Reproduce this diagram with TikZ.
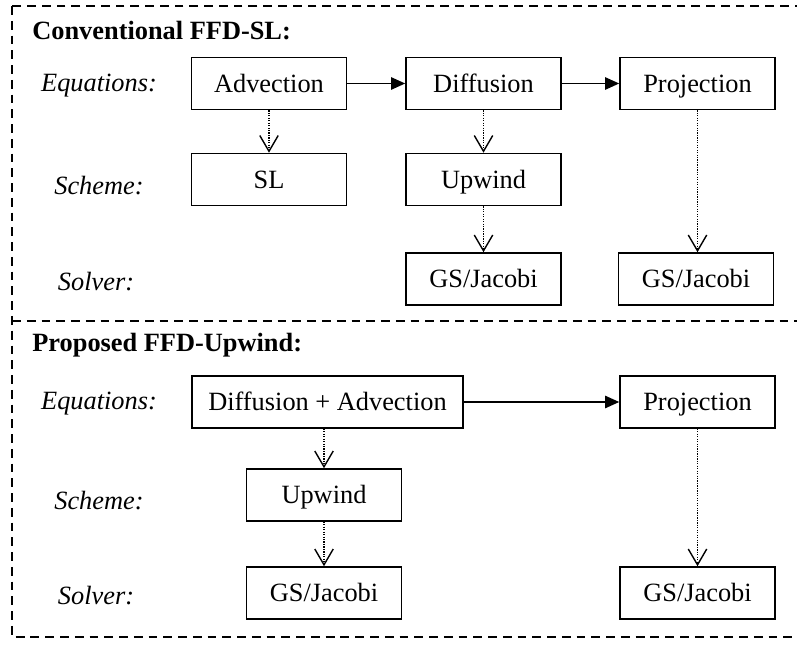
\documentclass[tikz,border=0pt]{standalone}
\usepackage{fontspec}
\setmainfont{Liberation Serif}
\usetikzlibrary{arrows.meta, positioning}

\begin{document}
\begin{tikzpicture}[
    every node/.style={font=\fontsize{15}{18}\selectfont},
    box/.style={rectangle, draw, line width=0.9pt, minimum width=3.1cm, minimum height=1.04cm, inner sep=2pt, text height=10.5pt, text depth=0.5pt},
    rowlbl/.style={font=\fontsize{15}{18}\selectfont\itshape},
    title/.style={font=\fontsize{15}{18}\selectfont\bfseries, anchor=west, inner sep=0pt},
    frame/.style={line width=0.6pt, dash pattern=on 5pt off 3.4pt},
    arr/.style={-{Triangle[length=8pt, width=7pt]}, line width=0.9pt},
    darr/.style={-{Straight Barb[length=9pt, width=10.5pt, line width=0.8pt]}, line width=0.9pt, dash pattern=on 0.7pt off 0.7pt}
]
\useasboundingbox (0, 0) rectangle (15.94, -13.0);

% frames
\draw[frame] (0.24, -0.12) rectangle (16.2, -12.74);
\draw[frame] (0.24, -6.42) -- (16.2, -6.42);

% Conventional FFD-SL
\node[title] (ttop) at (0.64, -0.61) {Conventional FFD-SL:};
\node[rowlbl] (eq1) at (1.98, -1.71) {Equations:};
\node[rowlbl] (sc1) at (1.98, -3.72) {Scheme:};
\node[rowlbl] (so1) at (1.92, -5.63) {Solver:};

\node[box] (adv)  at (5.38, -1.67) {Advection};
\node[box] (diff) at (9.67, -1.67) {Diffusion};
\node[box] (proj) at (13.95, -1.67) {Projection};
\node[box] (sl)   at (5.38, -3.59) {SL};
\node[box] (upw)  at (9.67, -3.59) {Upwind};
\node[box] (gsd)  at (9.67, -5.58) {GS/Jacobi};
\node[box] (gsp)  at (13.92, -5.58) {GS/Jacobi};

\draw[arr] (adv) -- (diff);
\draw[arr] (diff) -- (proj);
\draw[darr] (adv) -- (sl);
\draw[darr] (diff) -- (upw);
\draw[darr] (upw) -- (gsd);
\draw[darr] (proj) -- (proj |- gsp.north);

% Proposed FFD-Upwind
\node[title] (tbot) at (0.64, -6.9) {Proposed FFD-Upwind:};
\node[rowlbl] (eq2) at (1.98, -8.08) {Equations:};
\node[rowlbl] (sc2) at (1.98, -10.02) {Scheme:};
\node[rowlbl] (so2) at (1.92, -11.92) {Solver:};

\node[box, minimum width=5.42cm] (da) at (6.55, -8.04) {Diffusion + Advection};
\node[box] (proj2) at (13.95, -8.04) {Projection};
\node[box] (upw2)  at (6.48, -9.9) {Upwind};
\node[box] (gs2)   at (6.48, -11.86) {GS/Jacobi};
\node[box] (gsp2)  at (13.95, -11.86) {GS/Jacobi};

\draw[arr] (da) -- (proj2);
\draw[darr] (da.south -| upw2) -- (upw2);
\draw[darr] (upw2) -- (gs2);
\draw[darr] (proj2) -- (gsp2);

\end{tikzpicture}
\end{document}
